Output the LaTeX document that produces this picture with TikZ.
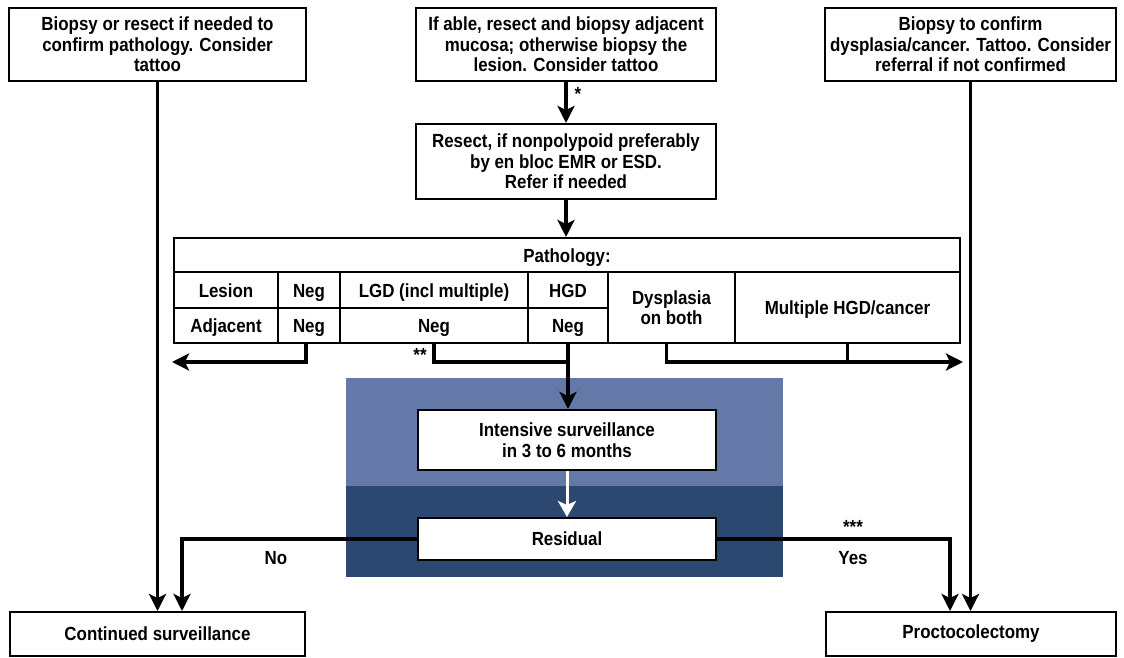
\documentclass[tikz,border=0pt]{standalone}
\usepackage{fontspec}
\setmainfont{Liberation Sans}[FakeStretch=0.89]
\usetikzlibrary{arrows.meta,positioning}
\definecolor{lightband}{HTML}{6579A9}
\definecolor{darkband}{HTML}{2C4870}
\tikzset{
  box/.style={draw, line width=2pt, align=center, inner sep=0pt, fill=white,
    font=\bfseries\fontsize{19}{20.5}\selectfont},
  cell/.style={draw, line width=2pt, align=center, inner sep=0pt, anchor=north west,
    minimum height=35.5pt, font=\bfseries\fontsize{19}{20}\selectfont},
  onerow/.style={cell, text height=16.5pt, text depth=2pt},
  lbl/.style={font=\bfseries\fontsize{19}{20}\selectfont},
  star/.style={font=\bfseries\fontsize{19}{19}\selectfont, inner sep=0pt},
  line/.style={line width=3.5pt},
  arr/.style={line width=3.5pt, -{Stealth[length=17pt,width=17pt,inset=4pt]}},
  warr/.style={line width=3pt, white, -{Stealth[length=16pt,width=18pt,inset=4pt]}},
}
\begin{document}
\begin{tikzpicture}[x=1pt,y=-1pt]
\useasboundingbox (0,0) rectangle (1124,658);
% blue bands behind the surveillance loop
\fill[lightband] (346,378) rectangle (783,486);
\fill[darkband] (346,486) rectangle (783,577);

% top row
\node[box, minimum width=297pt, minimum height=73pt] (confirm) at (157.5,44.5) {Biopsy or resect if needed to\\confirm pathology. Consider\\tattoo};
\node[box, minimum width=300pt, minimum height=73pt] (able) at (566,44.5) {If able, resect and biopsy adjacent\\mucosa; otherwise biopsy the\\lesion. Consider tattoo};
\node[box, minimum width=291pt, minimum height=73pt] (dysplasia) at (970.5,44.5) {Biopsy to confirm\\dysplasia/cancer. Tattoo. Consider\\referral if not confirmed};
\node[box, below=41pt of able, minimum width=300pt, minimum height=75pt] (resect) {Resect, if nonpolypoid preferably\\by en bloc EMR or ESD.\\Refer if needed};

% pathology table
\node[onerow, minimum width=786pt, minimum height=34pt] (patho) at (173,237) {Pathology:};
\node[onerow, minimum width=104pt] (lesion) at (173,271) {Lesion};
\node[onerow, minimum width=62pt] (lneg) at (277,271) {Neg};
\node[onerow, minimum width=188pt] (lgd) at (339,271) {LGD (incl multiple)};
\node[onerow, minimum width=80pt] (hgd) at (527,271) {HGD};
\node[cell, minimum width=127pt, minimum height=71pt] (dysp) at (607,271) {Dysplasia\\on both};
\node[onerow, minimum width=225pt, minimum height=71pt] (multi) at (734,271) {Multiple HGD/cancer};
\node[onerow, minimum width=104pt] (adj) at (173,306.5) {Adjacent};
\node[onerow, minimum width=62pt] (aneg) at (277,306.5) {Neg};
\node[onerow, minimum width=188pt] (lgdneg) at (339,306.5) {Neg};
\node[onerow, minimum width=80pt] (hgdneg) at (527,306.5) {Neg};

% surveillance loop
\node[box, minimum width=298pt, minimum height=60pt] (intens) at (567,440) {Intensive surveillance\\in 3 to 6 months};
\node[box, minimum width=298pt, minimum height=42pt] (resid) at (567,539) {Residual};

% bottom row
\node[box, minimum width=295pt, minimum height=44pt] (cont) at (157.5,634) {Continued surveillance};
\node[box, minimum width=290pt, minimum height=44pt] (procto) at (971,634) {Proctocolectomy};

% labels
\node[star] (s1) at (578,94) {*};
\node[star] (s2) at (420,355) {**};
\node[star] (s3) at (853,527) {***};
\node[lbl] (no) at (276,558) {No};
\node[lbl] (yes) at (853,558) {Yes};

\coordinate (outl) at (172,362);
\coordinate (outr) at (963,362);

\draw[arr] (able) -- (resect);
\draw[arr] (resect) -- (resect |- patho.north);
\draw[arr] (confirm) -- (cont);
\draw[arr] (dysplasia) -- (dysplasia |- procto.north);
\draw[arr] ([xshift=-3pt]aneg.south) |- (outl);
\draw[line] (lgdneg.south) |- (hgdneg.south |- outl);
\draw[arr] (hgdneg.south) -- (hgdneg.south |- intens.north);
\draw[arr] ([xshift=-5pt]dysp.south) |- (outr);
\draw[line] (multi.south) -- (multi.south |- outr);
\draw[warr] (intens) -- (resid);
\draw[arr] (resid.west) -| ([xshift=24.5pt]cont.north);
\draw[arr] (resid.east) -| ([xshift=-21pt]procto.north);
\end{tikzpicture}
\end{document}
